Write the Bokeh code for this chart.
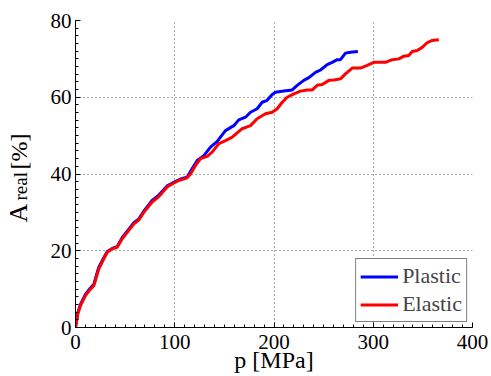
import math
from bokeh.plotting import figure
from bokeh.models import Range1d, SingleIntervalTicker, Legend, LegendItem, Label
from bokeh.layouts import row
from bokeh.embed import file_html
from bokeh.resources import INLINE

# ---- data ----
x_plastic = [0, 2.3, 5, 10, 15, 18.5, 21, 23.5, 28.5, 32, 37, 42, 47, 53.7, 58.8,
             63.8, 68.8, 77.2, 84, 92.3, 97.4, 105.8, 112.5, 117.6, 122.6, 129.3, 136,
             142.8, 151.1, 159.5, 164.5, 171.3, 176.3, 183, 188.1, 193.1, 198.2, 201.5,
             209.9, 218.3, 223.4, 230, 235.1, 241.8, 246.9, 253.6, 258.6, 263.7, 267,
             272, 277, 284.5]
y_plastic = [0, 3.8, 6, 8.6, 10.3, 11.3, 13.6, 15.7, 18.2, 19.8, 20.6, 21.1, 23.4, 25.6,
             27.3, 28.3, 30.3, 33.1, 34.5, 36.9, 37.6, 38.7, 39.2, 41.4, 43.5, 44.8, 47,
             48.5, 51.3, 52.6, 54.1, 54.8, 56.1, 57, 58.7, 59.2, 60.7, 61.3, 61.6, 61.9,
             63.1, 64.4, 65.1, 66.5, 67.1, 68.5, 69.1, 69.8, 69.8, 71.5, 71.7, 71.9]

x_elastic = [0, 2.3, 5, 10, 15, 18.5, 21, 23.5, 28.5, 32, 37, 42, 47, 53.7, 58.8,
             63.8, 68.8, 77.2, 84, 92.3, 97.4, 104, 112.5, 115.9, 120.9, 126, 132.7,
             137.7, 144.4, 151.1, 157.9, 167.9, 176.3, 183, 191.4, 198.2, 203.2, 208.3,
             213.3, 220, 226.7, 233.4, 238.5, 243.5, 248.6, 255.3, 260.4, 267, 272,
             278.8, 287.2, 293.9, 300.6, 307.3, 312.3, 319.1, 325.7, 330.8, 335.8,
             339.2, 344.3, 349.3, 354.3, 359.4, 366.1]
y_elastic = [0, 3.6, 5.7, 8.3, 10, 10.9, 13.1, 15.3, 17.9, 19.6, 20.5, 20.9, 23.1, 25.3,
             27, 28, 30, 32.7, 34.1, 36.6, 37.4, 38.3, 39, 40, 42.2, 44, 44.6, 45.7, 47.9,
             48.7, 49.6, 51.8, 52.6, 54.4, 55.7, 56.1, 57, 58.7, 60, 60.9, 61.6, 61.9,
             61.9, 63.1, 63.3, 64.4, 64.5, 64.8, 66.1, 67.6, 67.6, 68.3, 69.1, 69.1, 69.1,
             69.8, 70, 70.7, 70.9, 71.9, 72.2, 73, 74.2, 74.8, 75]

series_names = ["Plastic", "Elastic"]
x_label = "p [MPa]"
y_label_main, y_label_sub, y_label_unit = "A", "real", "[%]"
x_ticks_interval = 100
y_ticks_interval = 20

FONT = "Liberation Serif"
H = 375

# ---- main plot ----
p = figure(width=450, height=H, output_backend="svg", toolbar_location=None,
           x_range=Range1d(0, 400), y_range=Range1d(0, 80),
           min_border_left=35, min_border_right=18, min_border_top=20,
           min_border_bottom=48)
p.outline_line_color = None
p.background_fill_color = "white"
p.border_fill_color = "white"

for ax, interval in ((p.xaxis[0], x_ticks_interval), (p.yaxis[0], y_ticks_interval)):
    ax.ticker = SingleIntervalTicker(interval=interval, num_minor_ticks=10)
    ax.major_tick_in = 5
    ax.major_tick_out = 0
    ax.minor_tick_in = 3
    ax.minor_tick_out = 0
    ax.axis_line_color = "black"
    ax.major_tick_line_color = "black"
    ax.minor_tick_line_color = "black"
    ax.major_label_text_font = FONT
    ax.major_label_text_font_size = "21px"
    ax.major_label_text_color = "black"

p.xaxis[0].major_label_standoff = 7
p.yaxis[0].major_label_standoff = 4
p.xaxis[0].axis_label = x_label
p.xaxis[0].axis_label_text_font = FONT
p.xaxis[0].axis_label_text_font_size = "24px"
p.xaxis[0].axis_label_text_font_style = "normal"
p.xaxis[0].axis_label_text_color = "black"
p.xaxis[0].axis_label_standoff = -5

for g in (p.xgrid[0], p.ygrid[0]):
    g.grid_line_color = "#555555"
    g.grid_line_dash = "1 3"
    g.grid_line_width = 1

r1 = p.line(x_plastic, y_plastic, line_color="#0000ff", line_width=3)
r2 = p.line(x_elastic, y_elastic, line_color="#ff0000", line_width=3)

legend = Legend(items=[LegendItem(label=series_names[0], renderers=[r1]),
                       LegendItem(label=series_names[1], renderers=[r2])],
                location="bottom_right", margin=5, padding=4, spacing=2,
                label_height=23, glyph_height=23, glyph_width=38, label_standoff=4,
                label_text_font=FONT, label_text_font_size="22px",
                border_line_color="black", border_line_width=1,
                background_fill_color="white", background_fill_alpha=1)
p.add_layout(legend)

# ---- narrow panel holding the y-axis title (A_real [%]) ----
yl = figure(width=40, height=H, output_backend="svg", toolbar_location=None,
            x_range=Range1d(0, 40), y_range=Range1d(0, H),
            x_axis_location=None, y_axis_location=None,
            min_border=0, min_border_left=0, min_border_right=0,
            min_border_top=0, min_border_bottom=0)
yl.outline_line_color = None
yl.grid.visible = False
yl.background_fill_color = "white"
yl.border_fill_color = "white"
ang = math.pi / 2
common = dict(x_units="screen", y_units="screen", angle=ang, text_font=FONT,
              text_color="black", text_align="left", text_baseline="alphabetic")
yl.add_layout(Label(x=18, y=105, text=y_label_main, text_font_size="26px", **common))
yl.add_layout(Label(x=20, y=127, text=y_label_sub, text_font_size="19px", **common))
yl.add_layout(Label(x=18, y=158, text=y_label_unit, text_font_size="24px", **common))

layout = row(yl, p, spacing=0)
open("out.html", "w").write(file_html(layout, INLINE))
